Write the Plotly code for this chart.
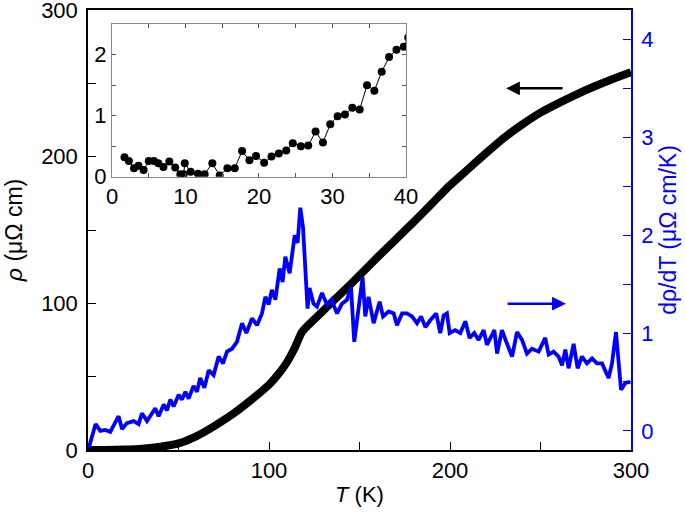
import plotly.graph_objects as go

# ---- main resistivity curve rho(T) ----
T_rho = [0, 10, 20, 30, 40, 50, 60, 70, 80, 90, 100, 106, 110, 114, 118, 120, 125, 130,
         140, 150, 160, 170, 180, 190, 200, 210, 220, 230, 240, 250, 260, 270, 280, 290, 300]
rho = [0, 0.05, 0.3, 0.9, 2.2, 4.5, 9.5, 16.5, 24.5, 34, 44.5, 53, 60, 69, 80, 83, 89, 95,
       107, 119, 131.5, 143.5, 155.5, 168, 180.5, 191.5, 202.5, 213, 222, 230, 236.5, 242.5,
       248, 253, 257.5]

# ---- derivative d rho / dT ----
T_d = [0.5, 2.5, 4.2, 6.8, 9.5, 12.3, 15.1, 16.9, 18.8, 21.5, 25.2, 28.0, 29.8, 32.6, 35.4,
       37.2, 39.0, 41.8, 43.6, 45.5, 47.3, 50.1, 51.9, 53.8, 55.6, 58.3, 60.2, 62.0, 64.3,
       66.7, 69.4, 72.2, 74.6, 76.8, 79.6, 82.3, 85.1, 87.5, 90.6, 93.4, 96.1, 98.0, 99.8,
       101.6, 103.5, 105.9, 107.5, 109.0, 111.4, 114.2, 115.8, 117.3, 118.8, 120.0, 121.3,
       122.4, 124.6, 126.5, 129.3, 132.0, 134.5, 137.6, 140.3, 143.1, 145.3, 147.1, 150.1,
       151.7, 153.2, 155.0, 157.8, 161.1, 163.0, 166.1, 168.9, 170.7, 173.5, 176.2, 179.0,
       181.8, 184.0, 186.4, 189.1, 192.4, 194.6, 196.5, 198.3, 199.8, 202.9, 205.7, 208.5,
       210.8, 213.4, 215.8, 218.6, 220.4, 223.2, 224.5, 226.0, 228.7, 231.5, 234.3, 237.0,
       239.8, 242.5, 245.3, 249.0, 252.6, 254.5, 257.2, 260.0, 261.9, 263.7, 265.5, 268.3,
       270.5, 272.9, 275.7, 278.5, 281.2, 284.0, 287.6, 289.5, 291.7, 294.5, 296.9, 299.6]
drho = [-0.17, -0.02, 0.07, 0.0, 0.01, -0.01, 0.08, 0.15, 0.02, 0.08, 0.10, 0.07, 0.18, 0.10,
        0.18, 0.23, 0.15, 0.27, 0.21, 0.32, 0.25, 0.37, 0.32, 0.40, 0.33, 0.46, 0.40, 0.54,
        0.44, 0.62, 0.57, 0.76, 0.69, 0.81, 0.84, 0.91, 1.10, 1.00, 1.15, 1.08, 1.20, 1.37,
        1.29, 1.44, 1.34, 1.66, 1.52, 1.78, 1.61, 2.00, 1.92, 2.28, 2.08, 1.61, 1.25, 1.46,
        1.30, 1.27, 1.41, 1.29, 1.34, 1.20, 1.30, 1.34, 1.47, 0.91, 1.34, 1.57, 1.17, 1.37,
        1.10, 1.32, 1.17, 1.22, 1.20, 1.08, 1.20, 1.20, 1.17, 1.10, 1.17, 1.06, 1.13, 1.20,
        1.00, 1.18, 1.20, 1.00, 1.03, 1.00, 1.12, 0.95, 1.00, 0.93, 1.03, 0.88, 0.98, 1.03,
        0.79, 1.03, 0.89, 0.76, 1.01, 0.93, 0.79, 0.84, 0.81, 0.95, 0.78, 0.81, 0.76, 0.67,
        0.83, 0.64, 0.89, 0.64, 0.76, 0.69, 0.74, 0.69, 0.69, 0.54, 0.69, 1.01, 0.42, 0.49,
        0.50]

# ---- inset: low-temperature rho ----
T_in = [1.7, 2.3, 3.0, 3.6, 4.3, 5.0, 5.7, 6.3, 7.0, 7.8, 8.6, 9.3, 9.75, 9.9, 10.7, 11.7,
        12.6, 13.65, 14.65, 15.7, 16.7, 17.7, 18.7, 19.6, 20.7, 21.7, 22.7, 23.7, 24.6, 25.7,
        26.7, 27.7, 28.7, 29.7, 30.7, 31.7, 32.7, 33.7, 34.7, 35.7, 36.7, 37.7, 38.7, 39.7, 40.3]
rho_in = [0.32, 0.26, 0.14, 0.18, 0.11, 0.26, 0.26, 0.22, 0.16, 0.25, 0.15, 0.04, 0.04, 0.22,
          0.08, 0.05, 0.04, 0.22, 0.02, 0.14, 0.14, 0.42, 0.27, 0.34, 0.23, 0.33, 0.38, 0.43,
          0.55, 0.50, 0.51, 0.74, 0.56, 0.86, 0.99, 1.02, 1.13, 1.10, 1.50, 1.41, 1.72, 1.96,
          2.08, 2.13, 2.28]

# ---- tick labels ----
main_x_ticks = [0, 100, 200, 300]
main_x_labels = ["0", "100", "200", "300"]
main_y_ticks = [0, 100, 200, 300]
main_y_labels = ["0", "100", "200", "300"]
right_ticks = [0, 1, 2, 3, 4]
right_labels = ["0", "1", "2", "3", "4"]
inset_x_ticks = [0, 5, 10, 15, 20, 25, 30, 35, 40]
inset_x_labels = ["0", "", "10", "", "20", "", "30", "", "40"]
inset_y_ticks = [0, 0.5, 1, 1.5, 2, 2.5]
inset_y_labels = ["0", "", "1", "", "2", ""]

BLUE = "#0000ff"
FONT = "Liberation Sans, Arial, sans-serif"

fig = go.Figure()
fig.add_trace(go.Scatter(x=T_rho, y=rho, mode="lines",
                         line=dict(color="black", width=8, shape="spline", smoothing=0.6),
                         xaxis="x", yaxis="y", showlegend=False, hoverinfo="skip"))
fig.add_trace(go.Scatter(x=T_d, y=drho, mode="lines",
                         line=dict(color=BLUE, width=3.8),
                         xaxis="x", yaxis="y2", showlegend=False, hoverinfo="skip"))
fig.add_trace(go.Scatter(x=T_in, y=rho_in, mode="lines+markers",
                         line=dict(color="black", width=1),
                         marker=dict(color="black", size=8),
                         xaxis="x2", yaxis="y3", showlegend=False, hoverinfo="skip"))

axis_common = dict(showgrid=False, zeroline=False, showline=True, ticks="inside",
                   ticklabeloverflow="allow")

fig.update_layout(
    width=685, height=514,
    margin=dict(l=88, r=54, t=10, b=64, autoexpand=False),
    paper_bgcolor="white", plot_bgcolor="white",
    font=dict(family=FONT, size=22, color="black"),
    xaxis=dict(**axis_common, range=[0, 300], linecolor="black", linewidth=1.5,
               mirror=True, tickvals=main_x_ticks, ticktext=main_x_labels,
               ticklen=8, tickwidth=1.2, tickcolor="black",
               minor=dict(tickvals=[50, 150, 250], ticks="inside", ticklen=8, tickcolor="black"),
               title=dict(text="<i>T</i> (K)", standoff=4, font=dict(size=22))),
    yaxis=dict(**axis_common, range=[0, 300], linecolor="black", linewidth=1.5,
               tickvals=main_y_ticks, ticktext=main_y_labels,
               ticklen=8, tickwidth=1.2, tickcolor="black", ticklabelstandoff=4,
               minor=dict(tickvals=[50, 150, 250], ticks="inside", ticklen=8, tickcolor="black"),
               title=dict(text="<i>ρ</i> (μΩ cm)", standoff=12, font=dict(size=23))),
    yaxis2=dict(**axis_common, overlaying="y", side="right", anchor="x",
                range=[-0.195, 4.3], linecolor=BLUE, linewidth=1.5,
                tickvals=right_ticks, ticktext=right_labels,
                ticklen=8, tickwidth=1.2, tickcolor=BLUE, ticklabelstandoff=4,
                tickfont=dict(color=BLUE),
                minor=dict(tickvals=[0.5, 1.5, 2.5, 3.5], ticks="inside", ticklen=8, tickcolor=BLUE),
                title=dict(text="dρ/dT (μΩ cm/K)", font=dict(color=BLUE, size=23), standoff=7)),
    xaxis2=dict(**axis_common, domain=[0.0442, 0.5856], anchor="y3", range=[0, 40],
                linecolor="#888888", linewidth=1, mirror="ticks",
                tickvals=inset_x_ticks, ticktext=inset_x_labels,
                ticklen=4, tickcolor="#555555"),
    yaxis3=dict(**axis_common, domain=[0.621, 0.968], anchor="x2", range=[0, 2.5],
                linecolor="#888888", linewidth=1, mirror="ticks",
                tickvals=inset_y_ticks, ticktext=inset_y_labels,
                ticklen=4, tickcolor="#555555"),
    annotations=[
        dict(x=231, y=246.6, xref="x", yref="y", ax=263, ay=246.6, axref="x", ayref="y",
             showarrow=True, arrowhead=2, arrowsize=1.1, arrowwidth=2.5,
             arrowcolor="black", text=""),
        dict(x=264, y=1.30, xref="x", yref="y2", ax=231, ay=1.30, axref="x", ayref="y2",
             showarrow=True, arrowhead=2, arrowsize=1.1, arrowwidth=2.5,
             arrowcolor=BLUE, text=""),
    ],
)

fig.write_html("out.html", config={"displayModeBar": False},
               post_script="document.body.style.margin='0';")
